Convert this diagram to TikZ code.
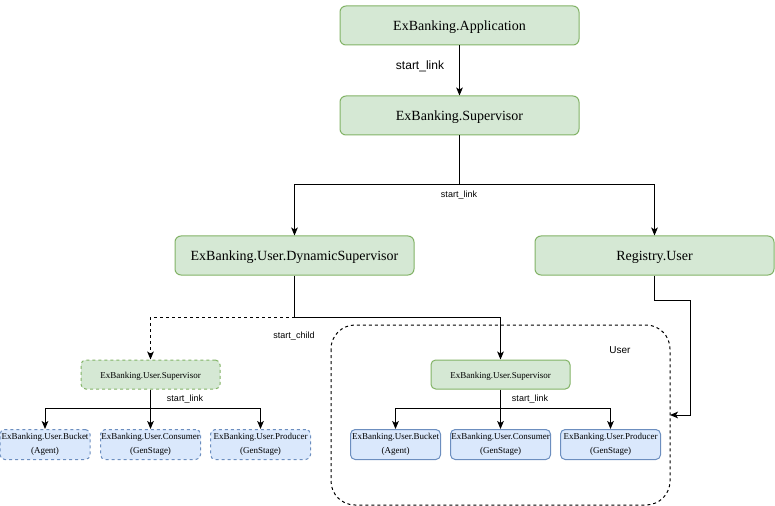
\documentclass[tikz,border=0pt]{standalone}
\usepackage{fontspec}
\setmainfont{Liberation Serif}
\setsansfont{Liberation Sans}
\usetikzlibrary{arrows.meta}

\definecolor{supfill}{HTML}{D5E8D4}
\definecolor{supline}{HTML}{82B366}
\definecolor{wrkfill}{HTML}{DAE8FC}
\definecolor{wrkline}{HTML}{6C8EBF}

\tikzset{every picture/.style={line width=0.75pt}}
\tikzset{
  bigsup/.style={draw=supline, fill=supfill, rounded corners=4.5pt, minimum width=179.25pt, minimum height=29.25pt, text height=9pt, text depth=1.5pt, font=\fontsize{10.5}{12}\selectfont},
  smallsup/.style={draw=supline, fill=supfill, rounded corners=3.5pt, minimum width=104.25pt, minimum height=21.75pt, text height=6.5pt, text depth=0pt, font=\fontsize{6.75}{8}\selectfont},
  worker/.style={draw=wrkline, fill=wrkfill, rounded corners=3.5pt, minimum width=75pt, minimum height=22.5pt, inner sep=0.5pt, align=center, execute at begin node=\rule{0pt}{9pt}, font=\fontsize{6.75}{10.5}\selectfont},
  dashbox/.style={dash pattern=on 2.25pt off 2.25pt},
  lbl/.style={font=\sffamily\fontsize{6.75}{8}\selectfont, inner sep=0.75pt},
  conn/.style={-{Stealth[length=6pt,width=5pt,inset=1.5pt]}},
}

\begin{document}
\begin{tikzpicture}[x=0.75pt,y=0.75pt,yscale=-1,xscale=1]
\useasboundingbox (0,0) rectangle (775,506);

%Rounded Rect: User group
\draw[dashbox, rounded corners=18pt] (331,325) rectangle (670,505);
\coordinate (usergrp) at (670,415);
\node[lbl, font=\sffamily\fontsize{7.5}{9}\selectfont] (userlbl) at (620,350) {User};

% Text Node
\node[bigsup] (app) at (459.5,25.5) {ExBanking.Application};
% Text Node
\node[bigsup] (sup) at (459.5,115.5) {ExBanking.Supervisor};
% Text Node
\node[bigsup] (dyn) at (294.5,255.5) {ExBanking.User.DynamicSupervisor};
% Text Node
\node[bigsup] (reg) at (654.5,255.5) {Registry.User};
% Text Node
\node[smallsup, dashbox] (lsup) at (150.5,374.5) {ExBanking.User.Supervisor};
% Text Node
\node[smallsup] (usup) at (500.5,374.5) {ExBanking.User.Supervisor};

% Text Node
\node[worker, dashbox, minimum width=67.5pt] (lbucket) at (45,444.5) {ExBanking.User.Bucket\\(Agent)};
\node[worker, dashbox] (lcons) at (150.5,444.5) {ExBanking.User.Consumer\\(GenStage)};
\node[worker, dashbox] (lprod) at (260.5,444.5) {ExBanking.User.Producer\\(GenStage)};
% Text Node
\node[worker, minimum width=67.5pt] (ubucket) at (395.5,444.5) {ExBanking.User.Bucket\\(Agent)};
\node[worker] (ucons) at (500.5,444.5) {ExBanking.User.Consumer\\(GenStage)};
\node[worker] (uprod) at (610.5,444.5) {ExBanking.User.Producer\\(GenStage)};

% bend points
\coordinate (supfork) at (459.5,185);
\coordinate (dynfork) at (294.5,317);
\coordinate (regbend) at (690,300);
\coordinate (lfork) at (150.5,408);
\coordinate (ufork) at (500.5,408);

%Straight Lines
\draw[conn] (app) -- (sup);
\node[lbl, font=\sffamily\fontsize{9}{11}\selectfont] (applbl) at (420,66) {start\_link};

\draw (sup) -- (supfork);
\draw[conn] (supfork) -| (dyn);
\draw[conn] (supfork) -| (reg);
\node[lbl] (suplbl) at (459,195.5) {start\_link};

\draw (dyn) -- (dynfork);
\draw[conn, dashbox] (dynfork) -| (lsup);
\draw[conn] (dynfork) -| (usup);
\node[lbl] (dynlbl) at (294,336) {start\_child};

\draw[conn] (reg) |- (regbend) |- (usergrp);

\draw (lsup) -- (lfork);
\foreach \w in {lbucket,lcons,lprod}
  \draw[conn] (lfork) -| (\w);
\node[lbl] (llbl) at (185,399) {start\_link};

\draw (usup) -- (ufork);
\foreach \w in {ubucket,ucons,uprod}
  \draw[conn] (ufork) -| (\w);
\node[lbl] (ulbl) at (530,399.5) {start\_link};

\end{tikzpicture}
\end{document}
